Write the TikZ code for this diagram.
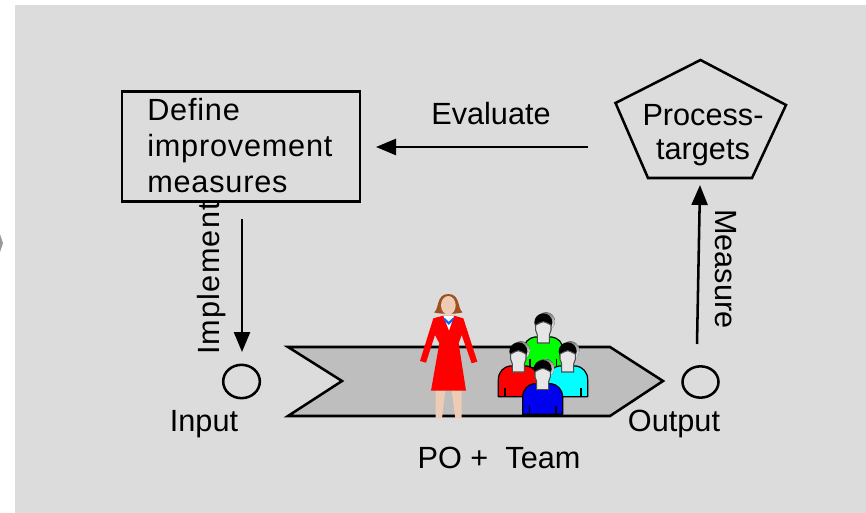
\documentclass[tikz,border=0pt]{standalone}
\usepackage{fontspec}
\setmainfont{Liberation Sans}
\definecolor{bgc}{HTML}{DCDCDC}
\definecolor{chev}{HTML}{BEBEBE}
\definecolor{skin}{HTML}{EDCBB5}
\definecolor{hairc}{HTML}{A0501E}
\definecolor{facec}{HTML}{E6E6E6}
\definecolor{pred}{HTML}{FF0000}
\definecolor{pgreen}{HTML}{00FF00}
\definecolor{pblue}{HTML}{0000F0}
\definecolor{pcyan}{HTML}{00FFFF}
\definecolor{shade}{HTML}{C4C4C4}
\usetikzlibrary{arrows.meta,shapes.geometric}
\tikzset{
  x=0.75pt,y=-0.75pt,
  shapeline/.style={draw=black,line width=1.9pt,line join=miter},
  arrowline/.style={draw=black,line width=1.9pt,-{Triangle[length=15pt,width=12pt]}},
  lab/.style={inner sep=0pt,font=\fontsize{23}{26}\selectfont},
  spaced/.style={font=\fontsize{23}{26}\selectfont\addfontfeature{LetterSpace=2.6}},
  port/.style={ellipse,draw=black,line width=1.9pt,fill=bgc,inner sep=0pt},
  pics/tmember/.style={code={
    \fill[shade] (8,-3) ellipse (27 and 27);
    \draw[fill=#1,line width=0.9pt,line join=round] (-60,136) -- (-60,85) .. controls (-60,60) and (-42,46) .. (-26,44) -- (26,44) .. controls (42,46) and (60,60) .. (60,85) -- (60,136) -- cycle;
    \draw[line width=0.9pt] (-40,110) -- (-40,136) (40,110) -- (40,136);
    \fill[black] (0,0) ellipse (27 and 27);
    \draw[fill=facec,line width=0.8pt,draw=black!70] (-23,8) .. controls (-12,3) and (-6,-2) .. (0,-2) .. controls (6,-2) and (12,3) .. (23,8) -- (23,24) .. controls (21,32) and (18,34) .. (18,38) -- (18,62) -- (-18,62) -- (-18,38) .. controls (-18,34) and (-21,32) .. (-23,24) -- cycle;
  }}
}
\begin{document}
\begin{tikzpicture}
\useasboundingbox (0,0) rectangle (866,513);
\fill[bgc] (15,5) rectangle (866,513);
\fill[black!40] (0,234) -- (3,243) -- (0,252) -- cycle;

% process chevron
\draw[shapeline,fill=chev] (288,347) -- (610,347) -- (663,381) -- (610,416) -- (288,416) -- (342,381) -- cycle;

% woman
\begin{scope}[shift={(400,280)},x=0.25pt,y=-0.25pt]
  \fill[skin] (107,330) -- (136,330) -- (126,415) -- (107,415) -- cycle;
  \fill[skin] (155,330) -- (185,330) -- (185,415) -- (166,415) -- cycle;
  \fill[hairc] (102,97) .. controls (118,88) and (108,42) .. (145,42) .. controls (182,42) and (172,88) .. (188,97) .. controls (170,103) and (120,103) .. (102,97) -- cycle;
  \fill[skin] (145,76) ellipse (22 and 28);
  \fill[pred] (100,115) -- (130,107) -- (162,107) -- (190,115) -- (232,245) -- (215,250) -- (185,165) -- (176,190) -- (198,332) -- (93,332) -- (118,190) -- (105,165) -- (78,248) -- (60,243) -- cycle;
  \fill[white] (130,107) -- (162,107) -- (147,152) -- cycle;
  \draw[blue!60!cyan,line width=1.6pt] (132,116) -- (146,130) -- (160,116);
\end{scope}

% team
\begin{scope}[shift={(400,280)},x=0.25pt,y=-0.25pt]
  \pic at (430,127) {tmember=pgreen};
  \pic at (355,214) {tmember=pred};
  \pic at (503,214) {tmember=pcyan};
  \pic at (428,267) {tmember=pblue};
\end{scope}

% pentagon
\draw[shapeline,fill=bgc] (700.5,60) -- (786,105) -- (752,178) -- (648,178) -- (615.5,103) -- cycle;
\node[lab,align=center,font=\fontsize{23}{26}\selectfont] (targets) at (703,135.5) {Process-\\[-0.5pt]targets};

% measures box
\node[draw=black,line width=1.9pt,minimum width=178.5pt,minimum height=82.5pt,inner sep=0pt,anchor=north west] (measures) at (120.5,90.5) {};
\node[lab,spaced,anchor=base west] (l1) at (147,121) {Define};
\node[lab,spaced,anchor=base west] (l2) at (147,157) {improvement};
\node[lab,spaced,anchor=base west] (l3) at (147,193) {measures};

% ports
\node[port,minimum width=27.5pt,minimum height=25pt] (input) at (241.5,381.5) {};
\node[port,minimum width=27pt,minimum height=23.5pt] (output) at (700.5,382) {};

% connector ends
\coordinate (evalstart) at (588,147);
\coordinate (evalend) at (376,147);
\coordinate (implstart) at (242,219);
\coordinate (implend) at (242,352);
\coordinate (measstart) at (697,344);
\coordinate (measend) at (700,185);
\draw[arrowline] (evalstart) -- (evalend);
\draw[arrowline] (implstart) -- (implend);
\draw[arrowline] (measstart) -- (measend);

% labels
\node[lab] (evaluate) at (491,114) {Evaluate};
\node[lab,font=\fontsize{23}{26}\selectfont\addfontfeature{LetterSpace=4},rotate=90] (implement) at (212,278.5) {Implement};
\node[lab,rotate=-90] (measure) at (726,269) {Measure};
\node[lab] (inlab) at (204,424) {Input};
\node[lab] (outlab) at (674,424) {Output};
\node[lab] (team) at (499,458) {PO +\ \ Team};
\end{tikzpicture}
\end{document}
